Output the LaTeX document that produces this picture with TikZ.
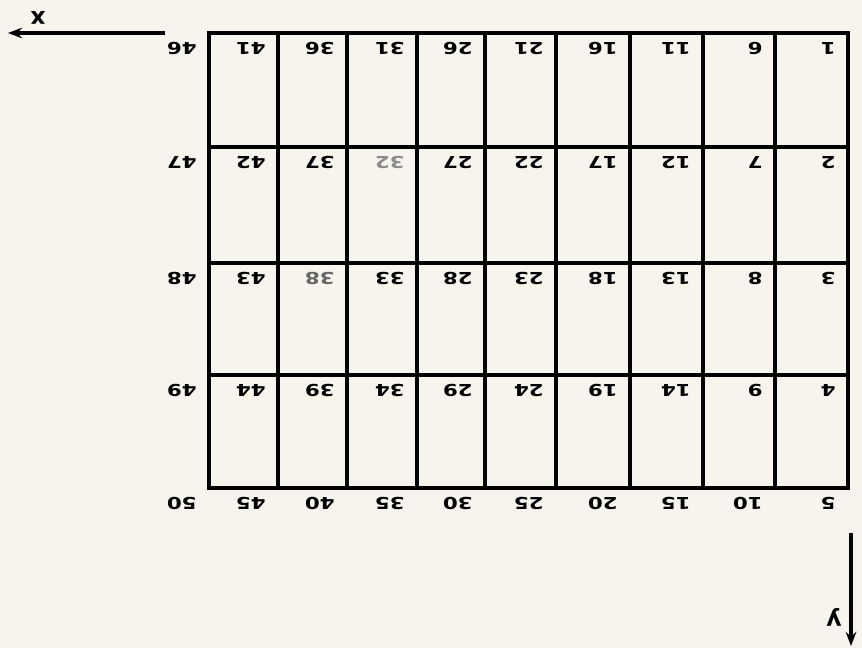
\documentclass[tikz,border=0pt]{standalone}
\usepackage{fontspec}
\setmainfont{DejaVu Sans}
\usetikzlibrary{calc,arrows.meta}
\definecolor{paper}{RGB}{246,244,236}
\tikzset{
    gridline/.style={line width=2.6pt, line cap=rect},
    axisline/.style={-{Stealth[length=12pt,width=9pt]}, line width=2.6pt},
    numlbl/.style={font=\bfseries\fontsize{14}{14}\selectfont, rotate=180, xscale=1.3, inner sep=0pt, anchor=south west},
    axislbl/.style={font=\bfseries\fontsize{20}{20}\selectfont, rotate=180, inner sep=0pt},
}
\begin{document}
\begin{tikzpicture}[x=0.03cm, y=-0.03cm]
    \fill[paper] (0,0) rectangle (862,648);
    \useasboundingbox (0,0) rectangle (862,648);

    % crossing points, counted column by column from the right
    \foreach \xx [count=\i] in {848,775,703,630,556,485,417,347,278,209} {
        \foreach \yy [count=\j] in {33,147,263,375,488} {
            \coordinate (p\i-\j) at (\xx,\yy);
        }
    }

    % grid
    \foreach \i in {1,...,10} \draw[gridline] (p\i-1) -- (p\i-5);
    \foreach \j in {1,...,5} \draw[gridline] (p1-\j) -- (p10-\j);

    % numbers beside the crossing points
    \foreach \i in {1,...,10} {
        \foreach \j in {1,...,5} {
            \pgfmathtruncatemacro\n{5*(\i-1)+\j}
            \def\lblcol{black}
            \ifnum\n=32 \def\lblcol{black!45}\fi
            \ifnum\n=38 \def\lblcol{black!60}\fi
            \node[numlbl, text=\lblcol] (n\n) at ($(p\i-\j)+(-12,9)$) {\n};
        }
    }

    % axes
    \coordinate (xs) at (165,33);
    \coordinate (xe) at (8,33);
    \draw[axisline] (xs) -- (xe);
    \node[axislbl] (xl) at (38,18) {x};

    \coordinate (ys) at (851,533);
    \coordinate (ye) at (851,646);
    \draw[axisline] (ys) -- (ye);
    \node[axislbl] (yl) at (834,617) {y};
\end{tikzpicture}
\end{document}
